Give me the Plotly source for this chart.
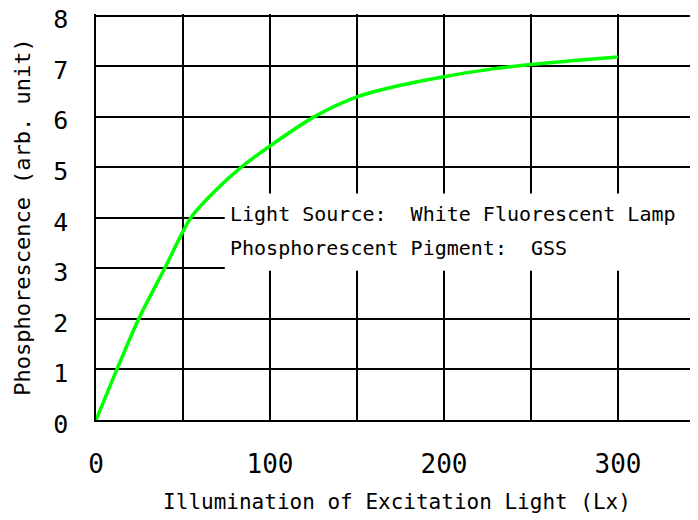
import plotly.graph_objects as go

# Illumination (Lx) vs phosphorescence (arb. unit)
illumination = [0, 12, 24.5, 39.5, 54.5, 69, 83.5, 100, 125.6, 150, 175, 200, 225, 250, 275, 300]
phosphorescence = [0, 1.0, 2.0, 3.0, 4.0, 4.55, 5.0, 5.42, 6.0, 6.39, 6.62, 6.79, 6.93, 7.03, 7.11, 7.18]

x_ticks = [0, 100, 200, 300]
y_ticks = [0, 1, 2, 3, 4, 5, 6, 7, 8]

note_lines = [
    "Light Source:  White Fluorescent Lamp",
    "Phosphorescent Pigment:  GSS",
]

FONT = "DejaVu Sans Mono"

fig = go.Figure()
fig.add_trace(go.Scatter(
    x=illumination,
    y=phosphorescence,
    mode="lines",
    line=dict(color="#00FF00", width=3.5, shape="spline", smoothing=0.8),
    showlegend=False,
))

# white box behind the note, hides the grid there
fig.add_shape(
    type="rect", xref="x", yref="y",
    x0=74, x1=360, y0=2.95, y1=4.48,
    fillcolor="white", line=dict(width=0), layer="above",
)
for text, ypos in zip(note_lines, [4.07, 3.40]):
    fig.add_annotation(
        x=76, y=ypos, xref="x", yref="y",
        xanchor="left", yanchor="middle", align="left",
        text=text, showarrow=False,
        font=dict(family=FONT, size=20, color="black"),
    )

# page body has an 8px margin, so the figure is sized to fit the window
fig.update_layout(
    width=690, height=512,
    margin=dict(l=88, r=0, t=5.5, b=100),
    plot_bgcolor="white",
    paper_bgcolor="white",
    font=dict(family=FONT, color="black"),
    xaxis=dict(
        range=[0, 346], tickvals=x_ticks,
        showgrid=False, zeroline=False, automargin=False,
        showline=True, linecolor="black", linewidth=1.5,
        tickfont=dict(size=26), ticklabelstandoff=20,
        title=dict(text="Illumination of Excitation Light (Lx)",
                   font=dict(size=21), standoff=16),
    ),
    yaxis=dict(
        range=[0, 8.03], tickvals=y_ticks,
        gridcolor="black", gridwidth=1.5,
        zeroline=False, automargin=False,
        showline=True, linecolor="black", linewidth=1.5,
        tickfont=dict(size=25), ticklabelstandoff=21,
        ticklabelshift=4, ticklabeloverflow="allow",
        title=dict(text="Phosphorescence (arb. unit)",
                   font=dict(size=22), standoff=16),
    ),
)

# vertical grid every 50 Lx (labels only every 100)
fig.update_xaxes(minor=dict(showgrid=True, dtick=50, gridcolor="black", gridwidth=1.5, tick0=0))

fig.write_html("out.html")
